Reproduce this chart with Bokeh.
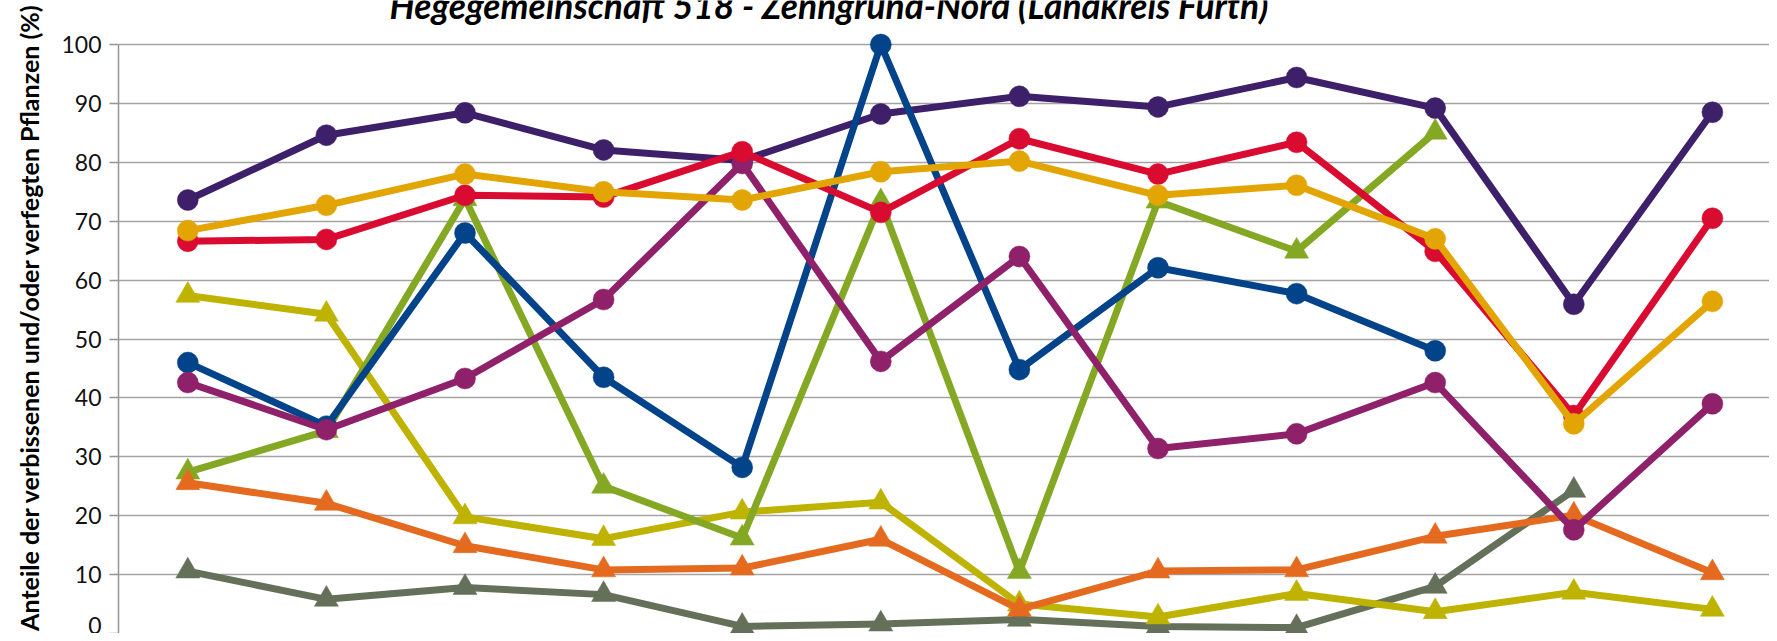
import math
from bokeh.plotting import figure
from bokeh.models import Range1d, FixedTicker
from bokeh.core.properties import value
from bokeh.embed import file_html
from bokeh.resources import INLINE

nan = float("nan")

# category positions (x-axis labels are cut off in the reference)
positions = [1, 2, 3, 4, 5, 6, 7, 8, 9, 10, 11, 12]
y_ticks = [0, 10, 20, 30, 40, 50, 60, 70, 80, 90, 100]

title_text = "Hegegemeinschaft 518 - Zenngrund-Nord (Landkreis Fürth)"
ylabel_text = "Anteile der verbissenen und/oder verfegten Pflanzen (%)"

# circle series
s_purple = [73.6, 84.6, 88.4, 82.1, 80.3, 88.2, 91.2, 89.4, 94.4, 89.2, 55.9, 88.5]
s_red = [66.6, 66.9, 74.4, 74.1, 81.8, 71.5, 84.0, 78.0, 83.4, 64.9, 37.0, 70.5]
s_gold = [68.4, 72.7, 78.0, 75.0, 73.6, 78.4, 80.2, 74.4, 76.1, 67.0, 35.6, 56.4]
s_blue = [46.0, 35.2, 68.0, 43.5, 28.2, 100.0, 44.8, 62.1, 57.7, 48.0, nan, nan]
s_magenta = [42.6, 34.6, 43.3, 56.7, 79.8, 46.2, 64.0, 31.4, 33.9, 42.6, 17.6, 39.0]

# triangle series
s_green = [27.4, 34.4, 73.8, 25.0, 16.2, 73.3, 10.5, 73.4, 64.9, 85.1, nan, nan]
s_olive = [57.4, 54.2, 19.8, 16.1, 20.6, 22.3, 5.0, 2.8, 6.8, 3.7, 7.0, 4.1]
s_orange = [25.6, 22.1, 14.9, 10.8, 11.1, 16.0, 4.1, 10.6, 10.8, 16.5, 20.1, 10.3]
s_gray = [10.6, 5.8, 7.8, 6.6, 1.2, 1.6, 2.4, 1.2, 1.0, 8.0, 24.3, nan]

W, H = 1769, 633
LEFT = 118          # frame left (canvas px)
TOP100 = 44         # canvas px of the 100 gridline
STEP = 138.6        # px per category
YMAX = 100.0 * H / (H - TOP100)
PXU = (H - TOP100) / 100.0

x0 = 0.5
x1 = 0.5 + (W - LEFT) / STEP

p = figure(width=W, height=H, output_backend="svg", toolbar_location=None,
           x_range=Range1d(x0, x1), y_range=Range1d(0, YMAX),
           x_axis_location=None,
           min_border_left=LEFT, min_border_right=0, min_border_top=0, min_border_bottom=0)
p.outline_line_color = None
p.background_fill_color = "white"
p.border_fill_color = "white"
p.xgrid.visible = False
p.ygrid.grid_line_color = "#A3A3A3"
p.ygrid.grid_line_width = 1.5
p.ygrid.ticker = FixedTicker(ticks=y_ticks)
p.yaxis.ticker = FixedTicker(ticks=y_ticks)
p.yaxis.bounds = (0, 100)
p.yaxis.axis_line_color = "#959595"
p.yaxis.axis_line_width = 1.5
p.yaxis.major_tick_line_color = "#959595"
p.yaxis.major_tick_line_width = 1.5
p.yaxis.major_tick_out = 9
p.yaxis.major_tick_in = 0
p.yaxis.minor_tick_line_color = None
p.yaxis.major_label_text_font = "Lato"
p.yaxis.major_label_text_font_size = "23px"
p.yaxis.major_label_text_color = "#111111"
p.yaxis.major_label_standoff = 8
p.yaxis.axis_label = ylabel_text
p.yaxis.axis_label_text_font = "Lato"
p.yaxis.axis_label_text_font_style = "bold"
p.yaxis.axis_label_text_font_size = "25px"
p.yaxis.axis_label_text_color = "#000000"
p.yaxis.axis_label_standoff = 14

LW = 7
tri_series = [
    (s_gray, "#647059"),
    (s_olive, "#BEB300"),
    (s_green, "#84A823"),
    (s_orange, "#E46A1F"),
]
circ_series = [
    (s_purple, "#3D2069"),
    (s_blue, "#024389"),
    (s_magenta, "#8E2169"),
    (s_red, "#DA0B30"),
    (s_gold, "#E2A503"),
]
for ys, col in tri_series:
    p.line(positions, ys, line_color=col, line_width=LW, line_join="round")
    p.scatter(positions, ys, marker="triangle", size=24, fill_color=col, line_color=col, line_width=0.5)
for ys, col in circ_series:
    p.line(positions, ys, line_color=col, line_width=LW, line_join="round")
    p.scatter(positions, ys, marker="circle", size=21, fill_color=col, line_color=col, line_width=0.5)

# chart title (its top is cut off at the window edge, as in the reference)
title_x = x0 + (389 - LEFT) / STEP
title_y = YMAX - 5 / PXU
p.text(x=[title_x], y=[title_y], text=[title_text],
       text_font=value("Lato"), text_font_style="bold italic", text_font_size="35.3px",
       text_align="left", text_baseline="alphabetic", text_color="#000000")

open("out.html", "w").write(file_html(p, INLINE))
